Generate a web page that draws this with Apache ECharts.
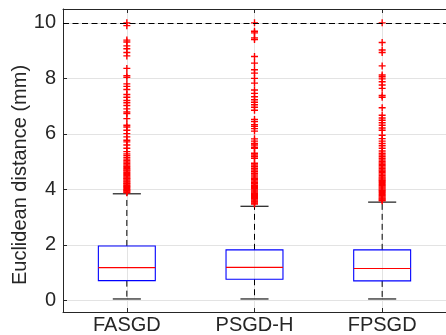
<!DOCTYPE html>
<html>
<head>
<meta charset="utf-8">
<script src="https://cdn.jsdelivr.net/npm/echarts@6/dist/echarts.min.js"></script>
<style>
  html, body { margin: 0; padding: 0; background: #ffffff; }
  #chart { width: 446px; height: 335px; }
</style>
</head>
<body>
<div id="chart"></div>
<script>
// Localisation error per method (mm): box-plot statistics and outliers
const categories = ['FASGD', 'PSGD-H', 'FPSGD'];
const lowerWhisker = [0.05, 0.05, 0.05];
const q1 = [0.71, 0.76, 0.70];
const median = [1.18, 1.19, 1.15];
const q3 = [1.96, 1.82, 1.82];
const upperWhisker = [3.84, 3.39, 3.54];

const outliersFASGD = [10.0, 9.90, 9.38, 9.31, 9.17, 9.07, 8.93, 8.81, 8.36, 8.10, 8.04, 7.80,
  7.71, 7.60, 7.42, 7.32, 7.20, 7.12, 7.02, 6.90, 6.79, 6.73, 6.55, 6.31, 6.25, 6.13, 6.01,
  5.89, 5.77, 5.71, 5.60, 5.48, 5.36, 5.28, 5.22, 5.15, 5.09, 5.03, 4.98, 4.93, 4.88, 4.83,
  4.79, 4.74, 4.70, 4.66, 4.61, 4.57, 4.53, 4.49, 4.45, 4.41, 4.38, 4.34, 4.30, 4.27, 4.23,
  4.20, 4.16, 4.13, 4.10, 4.07, 4.03, 4.00, 3.97, 3.94, 3.91, 3.88];
const outliersPSGDH = [10.0, 9.70, 9.64, 9.46, 9.40, 8.79, 8.55, 8.31, 8.19, 8.00, 7.83, 7.58,
  7.46, 7.34, 7.23, 7.14, 7.05, 6.96, 6.85, 6.52, 6.44, 6.33, 6.27, 6.19, 6.10, 5.82, 5.74,
  5.65, 5.60, 5.52, 5.48, 5.30, 5.24, 5.18, 5.12, 4.94, 4.88, 4.82, 4.76, 4.70, 4.64, 4.58,
  4.52, 4.45, 4.40, 4.35, 4.30, 4.25, 4.20, 4.15, 4.10, 4.06, 4.02, 3.98, 3.94, 3.90, 3.86,
  3.82, 3.78, 3.74, 3.70, 3.66, 3.62, 3.58, 3.55, 3.51, 3.47];
const outliersFPSGD = [10.0, 9.29, 9.02, 8.93, 8.45, 8.12, 8.06, 7.98, 7.88, 7.76, 7.64, 7.38,
  7.32, 6.94, 6.67, 6.57, 6.49, 6.40, 6.31, 6.21, 6.13, 5.95, 5.83, 5.74, 5.65, 5.57, 5.48,
  5.38, 5.30, 5.24, 5.18, 5.12, 5.06, 5.00, 4.95, 4.90, 4.85, 4.80, 4.75, 4.70, 4.65, 4.60,
  4.55, 4.50, 4.45, 4.41, 4.37, 4.33, 4.29, 4.25, 4.21, 4.17, 4.13, 4.09, 4.05, 4.01, 3.97,
  3.93, 3.89, 3.85, 3.81, 3.77, 3.73, 3.69, 3.65, 3.62, 3.59];

const yTicks = [0, 2, 4, 6, 8, 10];
const referenceLevel = 10;
const yLabel = 'Euclidean distance (mm)';

const outlierGroups = [outliersFASGD, outliersPSGDH, outliersFPSGD];
const xPositions = categories.map((_, i) => i + 1);

const boxData = categories.map((_, i) => [
  xPositions[i], lowerWhisker[i], q1[i], median[i], q3[i], upperWhisker[i]
]);
const outlierData = [];
outlierGroups.forEach((group, i) => {
  group.forEach(v => outlierData.push([xPositions[i], v]));
});

const FONT = '"Liberation Sans", Arial, Helvetica, sans-serif';
const INK = '#262626';
const GRID = '#e3e3e3';

const BOX_HALF = 0.223;
const CAP_HALF = 0.11;

function renderBox(params, api) {
  const x = api.value(0);
  const lo = api.value(1), a = api.value(2), m = api.value(3), b = api.value(4), hi = api.value(5);
  const p = (xv, yv) => api.coord([xv, yv]);
  const seg = (p1, p2, style) => ({
    type: 'line',
    shape: { x1: p1[0], y1: p1[1], x2: p2[0], y2: p2[1] },
    style: style
  });
  const dashed = { stroke: '#000000', lineWidth: 1, lineDash: [6, 4] };
  const solid = { stroke: '#1a1a1a', lineWidth: 1.2 };
  const tl = p(x - BOX_HALF, b);
  const br = p(x + BOX_HALF, a);
  return {
    type: 'group',
    children: [
      seg(p(x, b), p(x, hi), dashed),
      seg(p(x, a), p(x, lo), dashed),
      seg(p(x - CAP_HALF, hi), p(x + CAP_HALF, hi), solid),
      seg(p(x - CAP_HALF, lo), p(x + CAP_HALF, lo), solid),
      {
        type: 'rect',
        shape: { x: tl[0], y: tl[1], width: br[0] - tl[0], height: br[1] - tl[1] },
        style: { fill: 'none', stroke: '#0000ff', lineWidth: 1.1 }
      },
      seg(p(x - BOX_HALF, m), p(x + BOX_HALF, m), { stroke: '#ff0000', lineWidth: 1.1 })
    ]
  };
}

const chart = echarts.init(document.getElementById('chart'), null, { renderer: 'canvas' });

chart.setOption({
  animation: false,
  backgroundColor: '#ffffff',
  grid: { left: 63, top: 9, width: 388.5, height: 306, containLabel: false },
  xAxis: [{
    type: 'value',
    position: 'bottom',
    min: 0.5,
    max: 3.5,
    axisLine: { show: true, onZero: false, lineStyle: { color: INK, width: 1 } },
    axisTick: { show: true, inside: true, length: 4, customValues: xPositions, lineStyle: { color: INK } },
    axisLabel: {
      customValues: xPositions,
      formatter: v => categories[Math.round(v) - 1],
      fontSize: 20, color: INK, margin: 3, fontFamily: FONT
    },
    splitLine: { show: true, lineStyle: { color: GRID, width: 1 } }
  }, {
    type: 'value',
    position: 'top',
    min: 0.5,
    max: 3.5,
    axisLine: { show: true, onZero: false, lineStyle: { color: INK, width: 1 } },
    axisTick: { show: true, inside: true, length: 4, customValues: xPositions, lineStyle: { color: INK } },
    axisLabel: { show: false },
    splitLine: { show: false }
  }],
  yAxis: {
    type: 'value',
    min: -0.42,
    max: 10.5,
    axisLine: { show: true, onZero: false, lineStyle: { color: INK, width: 1 } },
    axisTick: { show: true, inside: true, length: 4, customValues: yTicks, lineStyle: { color: INK } },
    axisLabel: { customValues: yTicks, fontSize: 20, color: INK, margin: 7, fontFamily: FONT },
    splitLine: { show: true, lineStyle: { color: GRID, width: 1 } }
  },
  graphic: [{
    type: 'text',
    x: 20,
    y: 175,
    rotation: Math.PI / 2,
    style: {
      text: yLabel,
      fontSize: 20,
      fontFamily: FONT,
      fill: INK,
      align: 'center',
      verticalAlign: 'middle'
    }
  }],
  series: [{
    type: 'custom',
    name: 'box',
    xAxisIndex: 0,
    data: boxData,
    renderItem: renderBox,
    z: 2,
    silent: true,
    markLine: {
      silent: true,
      symbol: 'none',
      label: { show: false },
      lineStyle: { color: '#000000', type: [6, 3.5], width: 1 },
      data: [{ yAxis: referenceLevel }]
    }
  }, {
    type: 'scatter',
    name: 'outliers',
    xAxisIndex: 0,
    data: outlierData,
    symbol: 'path://M4,0h2v4h4v2h-4v4h-2v-4h-4v-2h4z',
    symbolSize: 7,
    itemStyle: { color: '#ff0000', opacity: 1 },
    z: 3,
    silent: true
  }]
});
</script>
</body>
</html>
